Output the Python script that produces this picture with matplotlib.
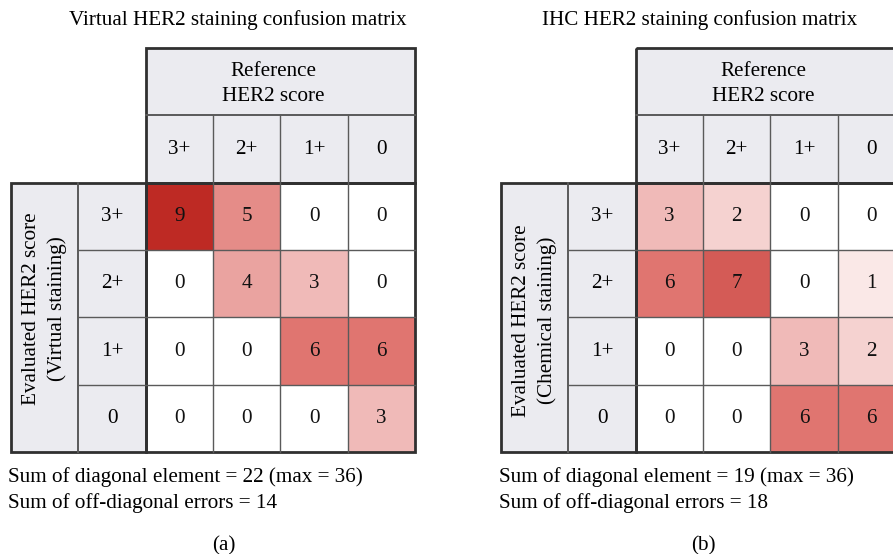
import matplotlib
matplotlib.use("Agg")
import matplotlib.pyplot as plt
from matplotlib.patches import Rectangle
from matplotlib.colors import LinearSegmentedColormap, Normalize

# data
scores = ["3+", "2+", "1+", "0"]

virtual_matrix = [[9, 5, 0, 0],
                  [0, 4, 3, 0],
                  [0, 0, 6, 6],
                  [0, 0, 0, 3]]

ihc_matrix = [[3, 2, 0, 0],
              [6, 7, 0, 1],
              [0, 0, 3, 2],
              [0, 0, 6, 6]]

titles = ["Virtual HER2 staining confusion matrix",
          "IHC HER2 staining confusion matrix"]
row_titles = ["Evaluated HER2 score\n(Virtual staining)",
              "Evaluated HER2 score\n(Chemical staining)"]
col_title = "Reference\nHER2 score"
panel_tags = ["(a)", "(b)"]
diag_sums = [22, 19]
offdiag_errors = [14, 18]
max_sum = 36

plt.rcParams['font.family'] = ['Liberation Serif', 'DejaVu Serif']

W, H = 893, 554
fig = plt.figure(figsize=(W / 100, H / 100), dpi=100)

cmap = LinearSegmentedColormap.from_list(
    "her2", [(0, "#FFFFFF"), (6 / 9, "#E07570"), (1, "#BE2A24")])
norm = Normalize(0, 9)

header_col = "#EBEBF0"
thin_col, thin_lw = "#5a5a5a", 1.0
thick_col, thick_lw = "#303030", 2.0
fs = 15.2

# pixel layout: (grid left, grid top, title x, notes x, tag x, row title y)
layouts = [(11, 48, 238, 8, 224, 1.87),
           (501, 48, 700, 499, 703, 2.05)]
size = 404

for k, mat in enumerate([virtual_matrix, ihc_matrix]):
    gx, gy, tx, nx, px, ry = layouts[k]
    ax = fig.add_axes([gx / W, 1 - (gy + size) / H, size / W, size / H])
    ax.set_xlim(-2, 4)
    ax.set_ylim(4, -2)
    ax.axis("off")

    # header blocks
    ax.add_patch(Rectangle((0, -2), 4, 2, facecolor=header_col, edgecolor="none"))
    ax.add_patch(Rectangle((-2, 0), 2, 4, facecolor=header_col, edgecolor="none"))

    # data cells
    for i in range(4):
        for j in range(4):
            v = mat[i][j]
            ax.add_patch(Rectangle((j, i), 1, 1, facecolor=cmap(norm(v)),
                                   edgecolor="none"))
            ax.text(j + 0.5, i + 0.5, str(v), ha="center", va="center",
                    fontsize=fs, color="#111111")

    # thin inner lines
    for t in range(1, 4):
        ax.plot([t, t], [-1, 4], color=thin_col, lw=thin_lw, clip_on=False)
        ax.plot([-1, 4], [t, t], color=thin_col, lw=thin_lw, clip_on=False)
    ax.plot([0, 4], [-1, -1], color=thin_col, lw=thin_lw * 1.4, clip_on=False)
    ax.plot([-1, -1], [0, 4], color=thin_col, lw=thin_lw * 1.4, clip_on=False)

    # thick block borders
    for (x0, y0, w, h) in [(0, -2, 4, 2), (-2, 0, 2, 4), (0, 0, 4, 4)]:
        ax.add_patch(Rectangle((x0, y0), w, h, facecolor="none",
                               edgecolor=thick_col, lw=thick_lw, clip_on=False))

    # header labels
    for j, s in enumerate(scores):
        ax.text(j + 0.5, -0.5, s, ha="center", va="center", fontsize=fs)
        ax.text(-0.5, j + 0.5, s, ha="center", va="center", fontsize=fs)
    ax.text(1.9, -1.47, col_title, ha="center", va="center", fontsize=fs,
            linespacing=1.45)
    ax.text(-1.5, ry, row_titles[k], ha="center", va="center", fontsize=fs,
            rotation=90, multialignment="center", linespacing=1.4)

    # title, notes and tag
    fig.text(tx / W, 1 - 20 / H, titles[k], ha="center", va="center", fontsize=fs)
    fig.text(nx / W, 1 - 482 / H,
             f"Sum of diagonal element = {diag_sums[k]} (max = {max_sum})",
             ha="left", va="baseline", fontsize=fs)
    fig.text(nx / W, 1 - 508 / H,
             f"Sum of off-diagonal errors = {offdiag_errors[k]}",
             ha="left", va="baseline", fontsize=fs)
    fig.text(px / W, 1 - 550 / H, panel_tags[k], ha="center", va="baseline",
             fontsize=fs)

fig.savefig("out.png", dpi=100)
